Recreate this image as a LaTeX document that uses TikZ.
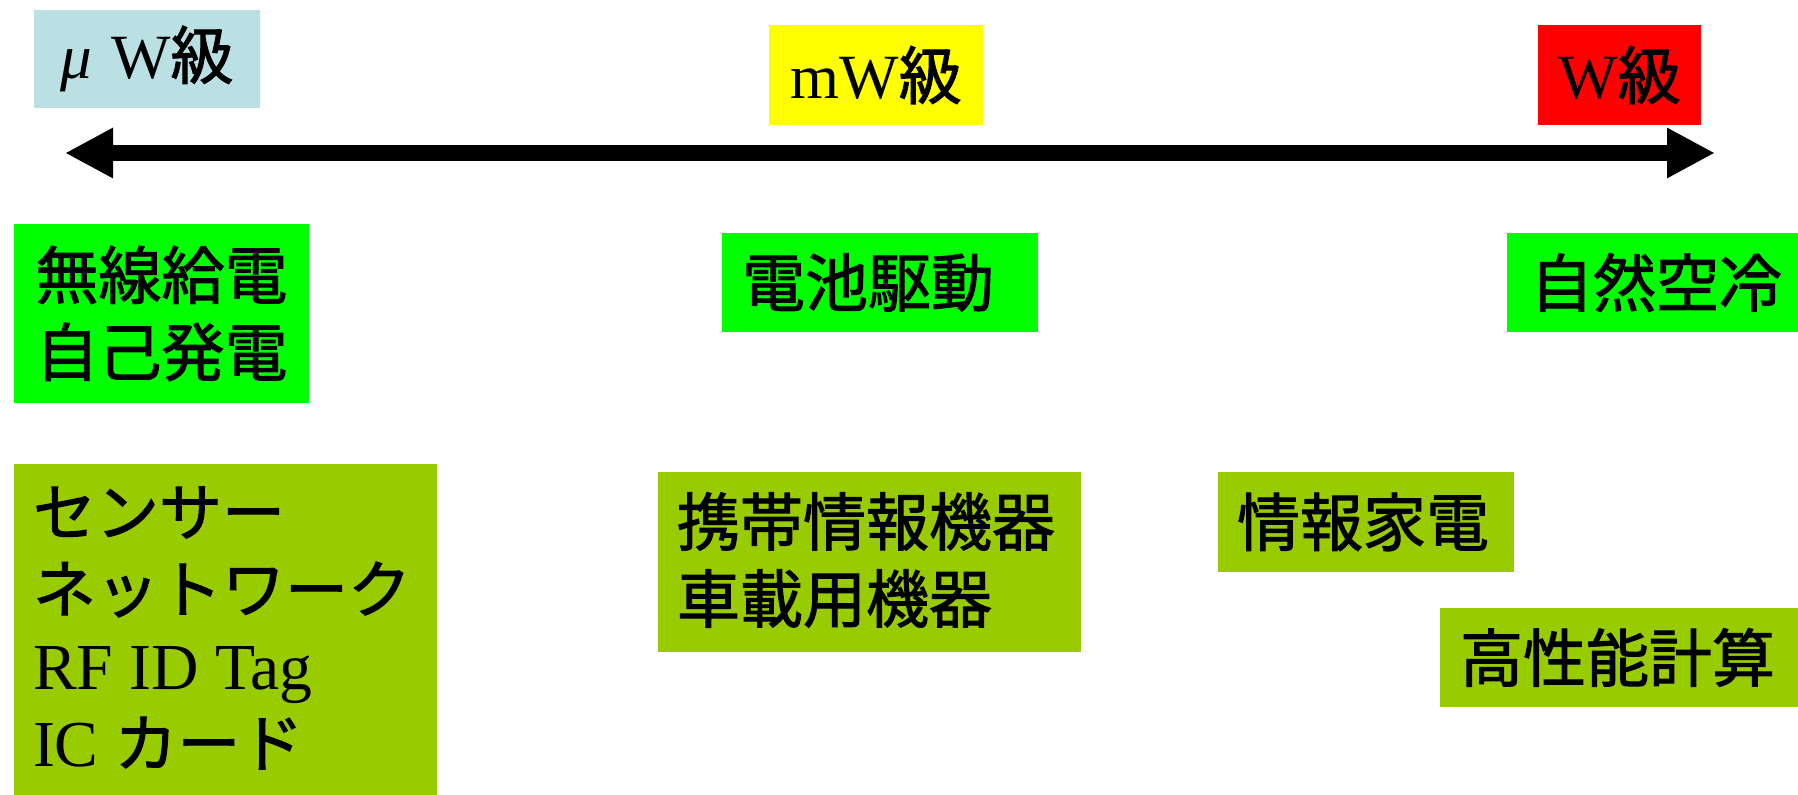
\documentclass[tikz,border=0pt]{standalone}
\usepackage{fontspec}
\setmainfont{Liberation Serif}
\newfontfamily\jp{Noto Sans CJK JP}[FakeBold=1.6]
\usetikzlibrary{arrows.meta}
\definecolor{lblue}{HTML}{BBE0E3}
\definecolor{yel}{HTML}{FFFF00}
\definecolor{redc}{HTML}{FF0000}
\definecolor{grn}{HTML}{00FF00}
\definecolor{ygrn}{HTML}{99CC00}
\newcommand{\bigser}[1]{{\fontsize{32.8pt}{38.5pt}\selectfont #1}}
\tikzset{
  box/.style={draw=none, inner sep=0pt},
  lbl/.style={inner sep=0pt, font=\fontsize{31.5pt}{38.5pt}\selectfont, align=left},
  ctr/.style={font=\fontsize{31.5pt}{38.5pt}\selectfont, align=center},
  scalearrow/.style={line width=8pt, >={Triangle[length=24pt,width=23.5pt]}, <->}
}
\begin{document}
\begin{tikzpicture}[x=0.5pt,y=-0.5pt]
\useasboundingbox[fill=white] (0,0) rectangle (1798,795);

% level headers
\node[box, ctr, fill=lblue, minimum width=113pt, minimum height=49pt] (mu) at (147,59) {\textit{μ}\hspace{0.3em}W{\jp 級}};
\node[box, ctr, fill=yel, minimum width=107pt, minimum height=50pt] (mw) at (876,75) {mW{\jp 級}};
\node[box, ctr, fill=redc, minimum width=81.5pt, minimum height=50pt] (w) at (1619.5,75) {W{\jp 級}};

% double arrow
\coordinate (aL) at (65,153);
\coordinate (aR) at (1715,153);
\draw[scalearrow] (aL) -- (aR);

% power supply boxes
\node[box, ctr, fill=grn, minimum width=147.5pt, minimum height=89.5pt] (b4) at (161.5,313.5) {\jp 無線給電\\\jp 自己発電};
\node[box, fill=grn, minimum width=158pt, minimum height=49.5pt] (b5) at (880,282.5) {};
\node[lbl, anchor=west] (t5) at ([xshift=10pt]b5.west) {\jp 電池駆動};
\node[box, fill=grn, minimum width=145.5pt, minimum height=49.5pt] (b6) at (1652.5,282.5) {};
\node[lbl, anchor=west] (t6) at ([xshift=11.5pt]b6.west) {\jp 自然空冷};

% application boxes
\node[box, fill=ygrn, minimum width=211.5pt, minimum height=165.5pt] (b7) at (225.5,629.5) {};
\node[lbl, anchor=west] (t7) at ([xshift=9.5pt,yshift=0.8pt]b7.west) {{\jp センサー}\\{\jp ネットワーク}\\\bigser{RF ID Tag}\\\bigser{IC} {\jp カード}};
\node[box, fill=ygrn, minimum width=211.5pt, minimum height=90pt] (b8) at (869.5,562) {};
\node[lbl, anchor=west] (t8) at ([xshift=9.5pt,yshift=1pt]b8.west) {\jp 携帯情報機器\\\jp 車載用機器};
\node[box, fill=ygrn, minimum width=148pt, minimum height=50pt] (b9) at (1366,522) {};
\node[lbl, anchor=west] (t9) at ([xshift=9.5pt]b9.west) {\jp 情報家電};
\node[box, fill=ygrn, minimum width=179pt, minimum height=49.5pt] (b10) at (1619,657.5) {};
\node[lbl, anchor=west] (t10) at ([xshift=10pt]b10.west) {\jp 高性能計算};
\end{tikzpicture}
\end{document}
